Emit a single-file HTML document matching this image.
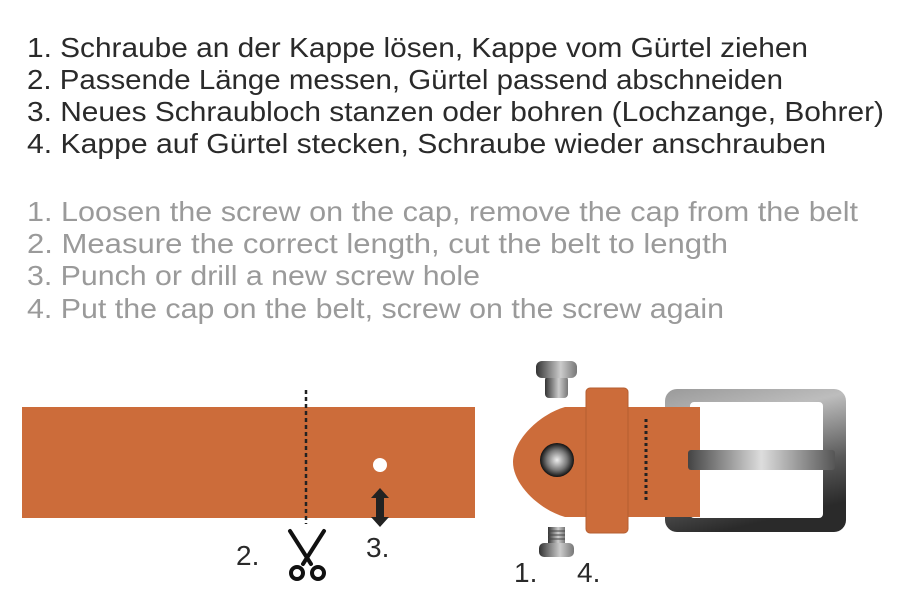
<!DOCTYPE html>
<html><head><meta charset="utf-8"><style>
html,body{margin:0;padding:0;background:#fff;}
svg{display:block;}
text{font-family:"Liberation Sans",sans-serif;font-size:28px;}
</style></head><body>
<svg width="900" height="600" viewBox="0 0 900 600" xmlns="http://www.w3.org/2000/svg">
<defs>
<linearGradient id="frame" x1="0" y1="0" x2="0.3" y2="1">
<stop offset="0" stop-color="#9a9a9a"/><stop offset="0.3" stop-color="#bdbdbd"/><stop offset="0.7" stop-color="#5a5a5a"/><stop offset="1" stop-color="#2a2a2a"/>
</linearGradient>
<linearGradient id="bar" x1="0" y1="0" x2="1" y2="0">
<stop offset="0" stop-color="#444"/><stop offset="0.5" stop-color="#ddd"/><stop offset="1" stop-color="#555"/>
</linearGradient>
<linearGradient id="metal" x1="0" y1="0" x2="1" y2="0">
<stop offset="0" stop-color="#333"/><stop offset="0.6" stop-color="#ccc"/><stop offset="1" stop-color="#777"/>
</linearGradient>
<radialGradient id="screw"><stop offset="0" stop-color="#eee"/><stop offset="0.6" stop-color="#777"/><stop offset="1" stop-color="#111"/></radialGradient>
</defs>
<g fill="#2a2a2a">
<text x="27" y="57" textLength="781" lengthAdjust="spacingAndGlyphs">1. Schraube an der Kappe lösen, Kappe vom Gürtel ziehen</text>
<text x="27" y="89" textLength="756" lengthAdjust="spacingAndGlyphs">2. Passende Länge messen, Gürtel passend abschneiden</text>
<text x="27" y="121" textLength="857" lengthAdjust="spacingAndGlyphs">3. Neues Schraubloch stanzen oder bohren (Lochzange, Bohrer)</text>
<text x="27" y="153" textLength="799" lengthAdjust="spacingAndGlyphs">4. Kappe auf Gürtel stecken, Schraube wieder anschrauben</text>
</g>
<g fill="#9a9a9a">
<text x="27" y="221" textLength="831" lengthAdjust="spacingAndGlyphs">1. Loosen the screw on the cap, remove the cap from the belt</text>
<text x="27" y="253" textLength="701" lengthAdjust="spacingAndGlyphs">2. Measure the correct length, cut the belt to length</text>
<text x="27" y="285" textLength="453" lengthAdjust="spacingAndGlyphs">3. Punch or drill a new screw hole</text>
<text x="27" y="318" textLength="697" lengthAdjust="spacingAndGlyphs">4. Put the cap on the belt, screw on the screw again</text>
</g>
<rect x="22" y="407" width="453" height="111" fill="#cc6c3a"/>
<line x1="306" y1="390" x2="306" y2="524" stroke="#222" stroke-width="2.5" stroke-dasharray="4,3"/>
<circle cx="380" cy="465" r="7" fill="#fff"/>
<path d="M380 488 L389 498 L384 498 L384 517 L389 517 L380 527 L371 517 L376 517 L376 498 L371 498 Z" fill="#222"/>
<g stroke="#111" fill="none" stroke-width="4" stroke-linecap="round">
<line x1="290" y1="531" x2="311" y2="564"/>
<line x1="324" y1="531" x2="303" y2="564"/>
<circle cx="297" cy="573" r="6"/><circle cx="318" cy="573" r="6"/>
</g>
<g fill="#2a2a2a" style="font-size:26px">
<text x="236" y="565">2.</text><text x="366" y="557">3.</text>
<text x="514" y="582">1.</text><text x="577" y="582">4.</text>
</g>
<path fill-rule="evenodd" fill="url(#frame)" d="M677 389 H834 A12 12 0 0 1 846 401 V520 A12 12 0 0 1 834 532 H677 A12 12 0 0 1 665 520 V401 A12 12 0 0 1 677 389 Z M694 402 H819 A4 4 0 0 1 823 406 V514 A4 4 0 0 1 819 518 H694 A4 4 0 0 1 690 514 V406 A4 4 0 0 1 694 402 Z"/>
<path d="M565 407 L700 407 L700 517 L565 517 C540 510 513 485 513 462 C513 440 540 414 565 407 Z" fill="#cc6c3a"/>
<rect x="688" y="450" width="147" height="20" rx="3" fill="url(#bar)"/>
<rect x="586" y="388" width="42" height="145" rx="4" fill="#cc6c3a" stroke="#b55e30" stroke-width="1"/>
<line x1="646" y1="419" x2="646" y2="503" stroke="#222" stroke-width="3" stroke-dasharray="3,3"/>
<circle cx="557" cy="460" r="17" fill="url(#screw)"/>
<rect x="545" y="376" width="23" height="22" rx="4" fill="url(#metal)"/>
<rect x="536" y="361" width="41" height="17" rx="6" fill="url(#metal)"/>
<rect x="548" y="527" width="17" height="20" fill="url(#metal)"/>
<g stroke="#444" stroke-width="1"><line x1="548" y1="531" x2="565" y2="531"/><line x1="548" y1="535" x2="565" y2="535"/><line x1="548" y1="539" x2="565" y2="539"/></g>
<rect x="539" y="543" width="35" height="14" rx="5" fill="url(#metal)"/>
</svg>
</body></html>
